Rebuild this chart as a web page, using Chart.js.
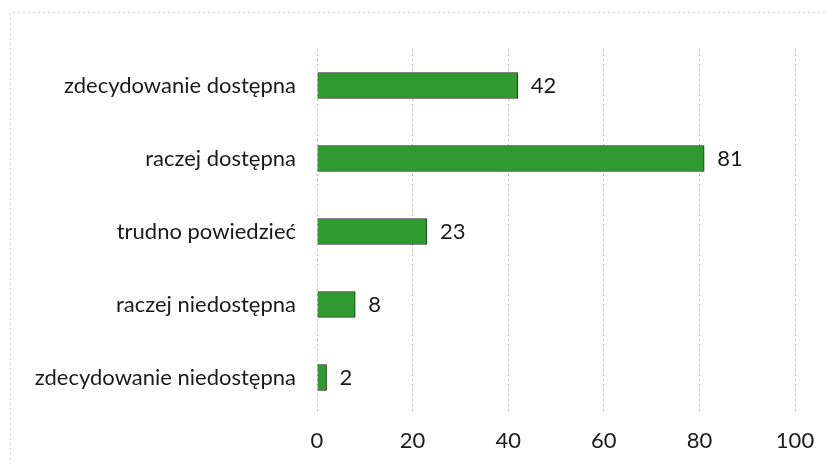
<!DOCTYPE html>
<html>
<head>
<meta charset="utf-8">
<script src="https://cdn.jsdelivr.net/npm/chart.js@4/dist/chart.umd.min.js"></script>
<style>
  html, body { margin: 0; padding: 0; background: #fff; }
</style>
</head>
<body>
<canvas id="chart" width="832" height="465"></canvas>
<script>
var categories = [
  "zdecydowanie dostępna",
  "raczej dostępna",
  "trudno powiedzieć",
  "raczej niedostępna",
  "zdecydowanie niedostępna"
];
var values = [42, 81, 23, 8, 2];
var xTicks = [0, 20, 40, 60, 80, 100];

var FONT = "Lato, 'Open Sans', sans-serif";
var FSIZE = 22;

// value labels at the end of each bar
var valueLabels = {
  id: 'valueLabels',
  afterDatasetsDraw: function (chart) {
    var ctx = chart.ctx;
    var meta = chart.getDatasetMeta(0);
    ctx.save();
    ctx.font = FSIZE + 'px ' + FONT;
    ctx.fillStyle = '#1a1a1a';
    ctx.textBaseline = 'middle';
    ctx.textAlign = 'left';
    meta.data.forEach(function (bar, i) {
      ctx.fillText(values[i], bar.x + 13, bar.y);
    });
    ctx.restore();
  }
};

// faint dotted frame like the original figure border
var frame = {
  id: 'frame',
  beforeDraw: function (chart) {
    var ctx = chart.ctx;
    ctx.save();
    ctx.strokeStyle = '#d4d4d4';
    ctx.setLineDash([2, 3]);
    ctx.lineWidth = 1;
    ctx.beginPath();
    ctx.moveTo(10.5, 460);
    ctx.lineTo(10.5, 12.5);
    ctx.lineTo(826, 12.5);
    ctx.stroke();
    ctx.restore();
  }
};

new Chart("chart", {
  type: "bar",
  data: {
    labels: categories,
    datasets: [{
      data: values,
      backgroundColor: "#2e9a30",
      borderColor: "#2a2a2a",
      borderWidth: 1,
      barThickness: 26
    }]
  },
  options: {
    indexAxis: 'y',
    responsive: false,
    animation: false,
    layout: { padding: { top: 49, right: 37, left: 0, bottom: 0 } },
    plugins: {
      legend: { display: false },
      tooltip: { enabled: false }
    },
    scales: {
      x: {
        min: 0,
        max: 100,
        afterBuildTicks: function (scale) {
          scale.ticks = xTicks.map(function (v) { return { value: v }; });
        },
        afterFit: function (scale) { scale.height = 51; },
        grid: {
          color: '#bdbdbd',
          drawTicks: false
        },
        border: { display: false, dash: [2, 3] },
        ticks: {
          padding: 14,
          color: '#1a1a1a',
          font: { family: FONT, size: FSIZE }
        }
      },
      y: {
        afterFit: function (scale) { scale.width = 317; },
        grid: { display: false },
        border: { display: false },
        ticks: {
          padding: 13,
          color: '#1a1a1a',
          font: { family: FONT, size: FSIZE }
        }
      }
    }
  },
  plugins: [valueLabels, frame]
});
</script>
</body>
</html>
